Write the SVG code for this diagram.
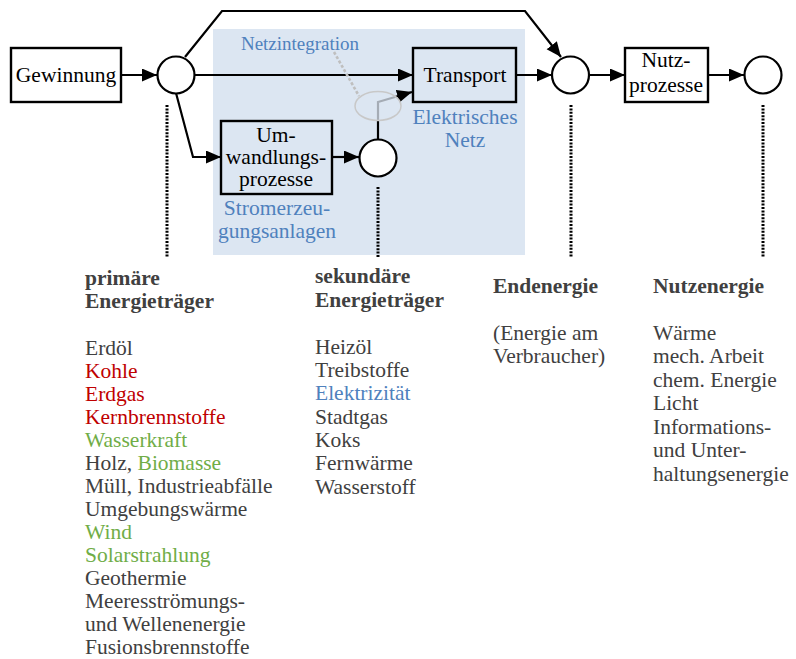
<svg xmlns="http://www.w3.org/2000/svg" width="796" height="659" viewBox="0 0 796 659" font-family="'Liberation Serif', 'DejaVu Serif', serif">
<defs>
<marker id="ah" markerUnits="userSpaceOnUse" markerWidth="16" markerHeight="14" refX="15" refY="6.5" orient="auto">
<path d="M0,0 L15,6.5 L0,13 z" fill="#000"/>
</marker>
<style>
text{font-family:'Liberation Serif','DejaVu Serif',serif;font-size:21.5px}
.box{fill:#fff;stroke:#000;stroke-width:2.4}
.boxt{fill:none;stroke:#000;stroke-width:2.4}
.node{fill:#fff;stroke:#000;stroke-width:2.2}
.c{fill:none;stroke:#000;stroke-width:2.2}
.dot{fill:none;stroke:#000;stroke-width:3;stroke-dasharray:2 1.4}
.bt{fill:#000}
.hd{fill:#404040;font-weight:bold}
.ls{fill:#404040}
.red{fill:#c00000}
.grn{fill:#70ad47}
.blu{fill:#4f81bd}
</style>
</defs>
<rect id="region" x="213" y="29" width="312" height="226" fill="#dce6f2"/>

<g id="connectors">
<path class="c" d="M121,75 L157,75" marker-end="url(#ah)"/>
<path class="c" d="M185,57 L222,11 L525,11 L561,57" marker-end="url(#ah)"/>
<path class="c" d="M194,75 L413,75" marker-end="url(#ah)"/>
<path class="c" d="M176,93 L193,157 L221,157" marker-end="url(#ah)"/>
<path class="c" d="M332,157 L359,157" marker-end="url(#ah)"/>
<path class="c" d="M378,139 L378,102 L412,92" marker-end="url(#ah)"/>
<path class="c" d="M516,75 L552,75" marker-end="url(#ah)"/>
<path class="c" d="M589,75 L625,75" marker-end="url(#ah)"/>
<path class="c" d="M708,75 L744,75" marker-end="url(#ah)"/>
<path d="M334,52 L359,96" fill="none" stroke="#bfbfbf" stroke-width="2.6" stroke-dasharray="3 2"/>
<ellipse cx="378" cy="106" rx="23" ry="14.5" fill="#dce6f2" fill-opacity="0.75" stroke="#c8c8c8" stroke-width="1.5"/>
<path class="dot" d="M167,105 L167,258"/>
<path class="dot" d="M378,187 L378,258"/>
<path class="dot" d="M571,105 L571,258"/>
<path class="dot" d="M763,105 L763,258"/>
</g>

<g id="gewinnung">
<rect class="box" x="11" y="48" width="110" height="54"/>
<text class="bt" x="66" y="82" text-anchor="middle">Gewinnung</text>
</g>
<g id="n1"><circle class="node" cx="176" cy="75" r="18.5"/></g>
<g id="transport">
<rect class="boxt" x="413" y="48" width="103" height="54"/>
<text class="bt" x="465" y="82" text-anchor="middle">Transport</text>
</g>
<g id="umwandlung">
<rect class="boxt" x="221" y="121" width="111" height="73"/>
<text class="bt" x="276" y="142" text-anchor="middle">Um-</text>
<text class="bt" x="276" y="164" text-anchor="middle">wandlungs-</text>
<text class="bt" x="276" y="186" text-anchor="middle">prozesse</text>
</g>
<g id="n2"><circle class="node" cx="378" cy="158" r="18.5"/></g>
<g id="n3"><circle class="node" cx="570.5" cy="75" r="18.5"/></g>
<g id="nutzprozesse">
<rect class="box" x="625" y="48" width="83" height="54"/>
<text class="bt" x="666" y="67" text-anchor="middle">Nutz-</text>
<text class="bt" x="666" y="92" text-anchor="middle">prozesse</text>
</g>
<g id="n4"><circle class="node" cx="763" cy="75" r="18.5"/></g>

<g id="labels">
<text class="blu" x="300" y="50" text-anchor="middle" style="font-size:19px">Netzintegration</text>
<text class="blu" x="277" y="215" text-anchor="middle">Stromerzeu-</text>
<text class="blu" x="277" y="238" text-anchor="middle">gungsanlagen</text>
<text class="blu" x="465" y="124" text-anchor="middle">Elektrisches</text>
<text class="blu" x="465" y="147" text-anchor="middle">Netz</text>
</g>

<g id="primaer">
<text class="hd" x="85" y="285">primäre</text>
<text class="hd" x="85" y="308">Energieträger</text>
<text class="ls" x="85" y="355">Erdöl</text>
<text class="red" x="85" y="378">Kohle</text>
<text class="red" x="85" y="401">Erdgas</text>
<text class="red" x="85" y="424">Kernbrennstoffe</text>
<text class="grn" x="85" y="447">Wasserkraft</text>
<text class="ls" x="85" y="470">Holz, <tspan class="grn">Biomasse</tspan></text>
<text class="ls" x="85" y="493">Müll, Industrieabfälle</text>
<text class="ls" x="85" y="516">Umgebungswärme</text>
<text class="grn" x="85" y="539">Wind</text>
<text class="grn" x="85" y="562">Solarstrahlung</text>
<text class="ls" x="85" y="585">Geothermie</text>
<text class="ls" x="85" y="608">Meeresströmungs-</text>
<text class="ls" x="85" y="631">und Wellenenergie</text>
<text class="ls" x="85" y="654">Fusionsbrennstoffe</text>
</g>

<g id="sekundaer">
<text class="hd" x="315" y="283">sekundäre</text>
<text class="hd" x="315" y="307">Energieträger</text>
<text class="ls" x="315" y="354">Heizöl</text>
<text class="ls" x="315" y="377">Treibstoffe</text>
<text class="blu" x="315" y="400">Elektrizität</text>
<text class="ls" x="315" y="424">Stadtgas</text>
<text class="ls" x="315" y="447">Koks</text>
<text class="ls" x="315" y="470">Fernwärme</text>
<text class="ls" x="315" y="494">Wasserstoff</text>
</g>

<g id="endenergie">
<text class="hd" x="493" y="293">Endenergie</text>
<text class="ls" x="493" y="340">(Energie am</text>
<text class="ls" x="493" y="363">Verbraucher)</text>
</g>

<g id="nutzenergie">
<text class="hd" x="653" y="293">Nutzenergie</text>
<text class="ls" x="653" y="340">Wärme</text>
<text class="ls" x="653" y="363">mech. Arbeit</text>
<text class="ls" x="653" y="387">chem. Energie</text>
<text class="ls" x="653" y="410">Licht</text>
<text class="ls" x="653" y="434">Informations-</text>
<text class="ls" x="653" y="457">und Unter-</text>
<text class="ls" x="653" y="481">haltungsenergie</text>
</g>
</svg>
